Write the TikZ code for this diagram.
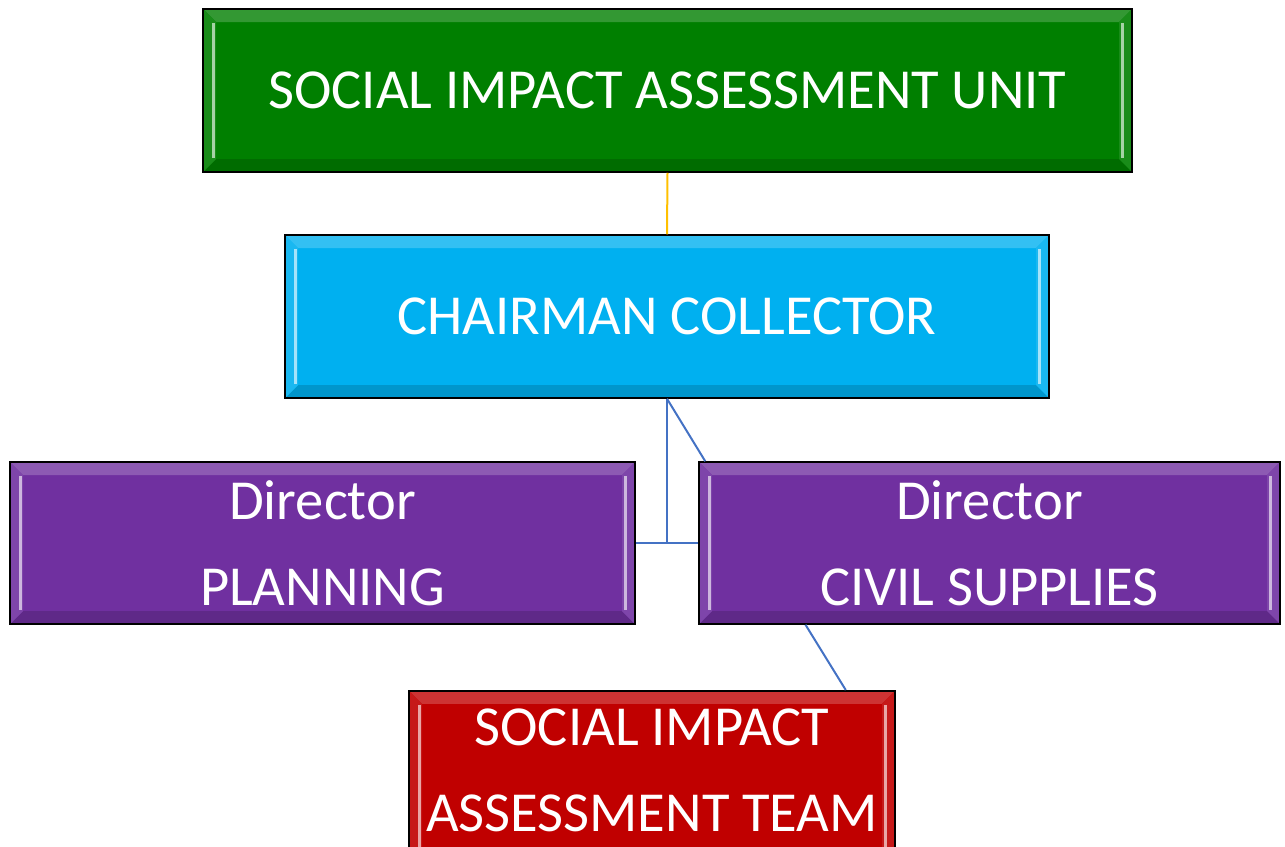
\documentclass[tikz,border=0pt]{standalone}
\usepackage{fontspec}
\setmainfont{Carlito}
\definecolor{unitgreen}{RGB}{0,127,0}
\definecolor{chaircyan}{RGB}{0,176,240}
\definecolor{dirpurple}{RGB}{112,48,160}
\definecolor{teamred}{RGB}{192,0,0}
\definecolor{linkblue}{RGB}{68,114,196}
\definecolor{linkorange}{RGB}{255,192,0}

\begin{document}
\begin{tikzpicture}[x=1pt, y=-1pt,
	orgbox/.style={draw=black, line width=1.5pt, fill=#1, text=white, inner sep=0pt,
		font=\fontsize{56.5}{86}\selectfont, align=center,
		path picture={
			% bevelled frame
			\fill[#1!80!white] (path picture bounding box.north west) -- (path picture bounding box.north east)
				-- ([shift={(-13pt,-13pt)}]path picture bounding box.north east)
				-- ([shift={(13pt,-13pt)}]path picture bounding box.north west) -- cycle;
			\fill[#1!85!black] (path picture bounding box.south west) -- (path picture bounding box.south east)
				-- ([shift={(-13pt,13pt)}]path picture bounding box.south east)
				-- ([shift={(13pt,13pt)}]path picture bounding box.south west) -- cycle;
			\fill[#1!90!white] (path picture bounding box.north west) -- ([shift={(13pt,-13pt)}]path picture bounding box.north west)
				-- ([shift={(13pt,13pt)}]path picture bounding box.south west) -- (path picture bounding box.south west) -- cycle;
			\fill[#1!90!white] (path picture bounding box.north east) -- ([shift={(-13pt,-13pt)}]path picture bounding box.north east)
				-- ([shift={(-13pt,13pt)}]path picture bounding box.south east) -- (path picture bounding box.south east) -- cycle;
			\draw[#1!35!white, line width=3pt] ([shift={(10pt,-14pt)}]path picture bounding box.north west)
				-- ([shift={(10pt,14pt)}]path picture bounding box.south west);
			\draw[#1!35!white, line width=3pt] ([shift={(-10pt,-14pt)}]path picture bounding box.north east)
				-- ([shift={(-10pt,14pt)}]path picture bounding box.south east);
		}},
	link/.style={draw=linkblue, line width=2pt}]
	\useasboundingbox (0,0) rectangle (1285,846);

	% boxes
	\node[orgbox=unitgreen, minimum width=929, minimum height=163] (unit) at (667.5,90.5) {SOCIAL IMPACT ASSESSMENT UNIT};
	\node[orgbox=chaircyan, minimum width=764, minimum height=163] (chair) at (667,316.5) {CHAIRMAN COLLECTOR};
	\node[orgbox=dirpurple, minimum width=625, minimum height=162] (planning) at (322.5,543) {Director\\PLANNING};
	\node[orgbox=dirpurple, minimum width=581, minimum height=162] (supplies) at (989.5,543) {Director\\CIVIL SUPPLIES};
	% runs off the bottom of the page
	\node[orgbox=teamred, minimum width=486, minimum height=200, anchor=north] (team) at (652,690)
		{\raisebox{13pt}[0pt][0pt]{\begin{tabular}{@{}c@{}}SOCIAL IMPACT\\ASSESSMENT TEAM\end{tabular}}};

	% connectors
	\draw[draw=linkorange, line width=2pt] (unit.south) -- (chair.north);
	\draw[link] (chair.south) -- (chair.south |- planning.east);
	\draw[link] (planning.east) -- (supplies.west);
	\draw[link] (chair.south) -- ([xshift=7pt]supplies.north west);
	\draw[link] ([xshift=-184pt]supplies.south) -- ([xshift=-50pt]team.north east);
\end{tikzpicture}
\end{document}
